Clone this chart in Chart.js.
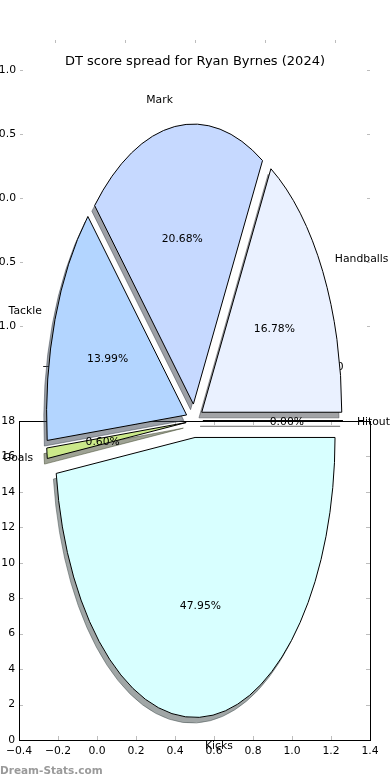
<!DOCTYPE html>
<html><head><meta charset="utf-8">
<script src="https://cdn.jsdelivr.net/npm/chart.js@4.4.1/dist/chart.umd.min.js"></script>
<style>
html,body{margin:0;padding:0;background:#fff;}
#wrap{position:relative;width:390px;height:780px;overflow:hidden;font-family:'DejaVu Sans',sans-serif;}
canvas{position:absolute;left:0;top:0;}
#title{position:absolute;left:0;top:52px;width:390px;text-align:center;font-size:13px;line-height:18px;color:#000;white-space:nowrap;}
#wm{position:absolute;left:0;top:762px;font-size:10.5px;font-weight:bold;color:#9a9a9a;line-height:16px;white-space:nowrap;}
</style></head><body>
<div id="wrap">
<canvas id="axPie" width="390" height="780"></canvas>
<canvas id="axLow" width="390" height="780"></canvas>
<canvas id="pie" width="390" height="780"></canvas>
<div id="title">DT score spread for Ryan Byrnes (2024)</div>
<div id="wm">Dream-Stats.com</div>
</div>
<script>
// ---- data ----
const categories = ['Handballs', 'Mark', 'Tackle', 'Goals', 'Kicks', 'Hitout'];
const shares = [16.78, 20.68, 13.99, 0.60, 47.95, 0.00];
const sliceColors = ['#eaf1ff', '#c6d9ff', '#b3d5ff', '#cbe98a', '#d8ffff', '#f2f2f2'];
const pieAxisTicks = [-1.0, -0.5, 0.0, 0.5, 1.0];
const lowerXTicks = [-0.4, -0.2, 0.0, 0.2, 0.4, 0.6, 0.8, 1.0, 1.2, 1.4];
const lowerYTicks = [0, 2, 4, 6, 8, 10, 12, 14, 16, 18];

// ---- styling ----
const FAM = "'DejaVu Sans', sans-serif";
const FS = 10.8;
const TICK_COLOR = '#bdbdbd';
const EXPLODE = 0.06;
const PIE_RX = 140;
const Y_STRETCH = 2;
const SHADOW_DX = -2.8, SHADOW_DY = 5.6;
const LABEL_DIST = 1.1, PCT_DIST = 0.6;
const TEXT_DY = 1.5;

const fmt1 = v => (v < 0 ? '\u2212' : '') + Math.abs(v).toFixed(1);

function framePlugin(id, tickLen, drawSpines) {
  return {
    id,
    afterDraw(chart) {
      const {ctx, chartArea: a, scales: {x, y}} = chart;
      ctx.save();
      ctx.strokeStyle = TICK_COLOR;
      ctx.lineWidth = 1;
      ctx.beginPath();
      x.ticks.forEach(t => {
        const px = Math.round(x.getPixelForValue(t.value)) + 0.5;
        ctx.moveTo(px, a.bottom); ctx.lineTo(px, a.bottom - tickLen);
        ctx.moveTo(px, a.top); ctx.lineTo(px, a.top + tickLen);
      });
      y.ticks.forEach(t => {
        const py = Math.round(y.getPixelForValue(t.value)) + 0.5;
        ctx.moveTo(a.left, py); ctx.lineTo(a.left + tickLen, py);
        ctx.moveTo(a.right, py); ctx.lineTo(a.right - tickLen, py);
      });
      ctx.stroke();
      if (drawSpines) {
        ctx.strokeStyle = '#000';
        ctx.lineWidth = 1;
        ctx.strokeRect(a.left + 0.5, a.top + 0.5, a.right - a.left, a.bottom - a.top);
      }
      ctx.restore();
    }
  };
}

function axisChart(canvasId, xTicks, yTicks, xFmt, yFmt, box, pad, tickLen, spines) {
  return new Chart(document.getElementById(canvasId), {
    type: 'scatter',
    data: {datasets: []},
    options: {
      responsive: false, animation: false, events: [],
      devicePixelRatio: 1,
      layout: {padding: pad},
      plugins: {legend: {display: false}, tooltip: {enabled: false}},
      scales: {
        x: {
          type: 'linear', position: 'bottom',
          min: box.xmin, max: box.xmax,
          afterBuildTicks: s => { s.ticks = xTicks.map(v => ({value: v})); },
          afterFit: s => { s.height = box.xh; },
          grid: {display: false, drawTicks: false},
          border: {display: false},
          ticks: {autoSkip: false, maxRotation: 0, padding: 4.5, color: '#000',
                  font: {family: FAM, size: FS}, callback: v => xFmt(v)}
        },
        y: {
          type: 'linear', position: 'left',
          min: box.ymin, max: box.ymax,
          afterBuildTicks: s => { s.ticks = yTicks.map(v => ({value: v})); },
          afterFit: s => { s.width = box.yw; },
          grid: {display: false, drawTicks: false},
          border: {display: false},
          ticks: {autoSkip: false, padding: 4, color: '#000',
                  font: {family: FAM, size: FS}, callback: v => yFmt(v)}
        }
      }
    },
    plugins: [framePlugin(canvasId + 'Frame', tickLen, spines)]
  });
}

// phantom axes that belong to the pie (ticks only, no frame)
axisChart('axPie', pieAxisTicks, pieAxisTicks, fmt1, fmt1,
  {xmin: -1.25, xmax: 1.25, ymin: -1.234, ymax: 1.234, xh: 30, yw: 20},
  {left: 0, top: 40, right: 20, bottom: 394}, 3, false);

// lower axes
axisChart('axLow', lowerXTicks, lowerYTicks, fmt1, v => String(v),
  {xmin: -0.4, xmax: 1.4, ymin: 0, ymax: 18, xh: 40, yw: 19},
  {left: 0, top: 421, right: 20, bottom: 0}, 4, true);

// ---- exploded, stretched pie with shadows ----
function hexToRgb(h) {
  const n = parseInt(h.slice(1), 16);
  return [(n >> 16) & 255, (n >> 8) & 255, n & 255];
}

function arcGeom(el) {
  const p = el.getProps(['x', 'y', 'startAngle', 'endAngle', 'outerRadius'], true);
  p.mid = (p.startAngle + p.endAngle) / 2;
  p.off = EXPLODE * p.outerRadius;
  return p;
}

const ellipsePie = {
  id: 'ellipsePie',
  beforeDatasetsDraw(chart) {
    const ctx = chart.ctx;
    const arcs = chart.getDatasetMeta(0).data;
    const path = (el, sx, sy) => {
      const p = arcGeom(el);
      ctx.save();
      ctx.translate(p.x + sx, p.y + sy);
      ctx.scale(1, -Y_STRETCH);
      ctx.translate(p.off * Math.cos(p.mid), p.off * Math.sin(p.mid));
      ctx.beginPath();
      ctx.moveTo(0, 0);
      ctx.arc(0, 0, p.outerRadius, p.startAngle, p.endAngle);
      ctx.closePath();
      ctx.restore();
    };
    ctx.save();
    arcs.forEach((el, i) => {
      const [r, g, b] = hexToRgb(sliceColors[i]).map(c => Math.round(c * 0.3));
      const col = `rgba(${r},${g},${b},0.5)`;
      path(el, SHADOW_DX, SHADOW_DY);
      ctx.fillStyle = col; ctx.strokeStyle = col; ctx.lineWidth = 1;
      ctx.fill(); ctx.stroke();
    });
    arcs.forEach((el, i) => {
      path(el, 0, 0);
      ctx.fillStyle = sliceColors[i]; ctx.strokeStyle = '#000'; ctx.lineWidth = 1;
      ctx.fill(); ctx.stroke();
    });
    ctx.restore();
    return false;
  },
  afterDraw(chart) {
    const ctx = chart.ctx;
    const arcs = chart.getDatasetMeta(0).data;
    ctx.save();
    ctx.fillStyle = '#000';
    ctx.font = `${FS}px ${FAM}`;
    ctx.textBaseline = 'middle';
    arcs.forEach((el, i) => {
      const p = arcGeom(el);
      const at = k => ({
        x: p.x + (p.off + k * p.outerRadius) * Math.cos(p.mid),
        y: p.y - Y_STRETCH * (p.off + k * p.outerRadius) * Math.sin(p.mid) + TEXT_DY
      });
      const L = at(LABEL_DIST);
      ctx.textAlign = Math.cos(p.mid) > 0 ? 'left' : 'right';
      ctx.fillText(categories[i], L.x, L.y);
      const P = at(PCT_DIST);
      ctx.textAlign = 'center';
      ctx.fillText(shares[i].toFixed(2) + '%', P.x, P.y);
    });
    ctx.restore();
  }
};

new Chart(document.getElementById('pie'), {
  type: 'pie',
  data: {
    labels: categories,
    datasets: [{data: shares, backgroundColor: sliceColors, borderColor: '#000', borderWidth: 1}]
  },
  options: {
    responsive: false, animation: false, events: [],
    devicePixelRatio: 1,
    rotation: 90,
    radius: PIE_RX,
    layout: {padding: {left: 0, right: 1, top: 61.4, bottom: 0}},
    plugins: {legend: {display: false}, tooltip: {enabled: false}}
  },
  plugins: [ellipsePie]
});
</script>
</body></html>
